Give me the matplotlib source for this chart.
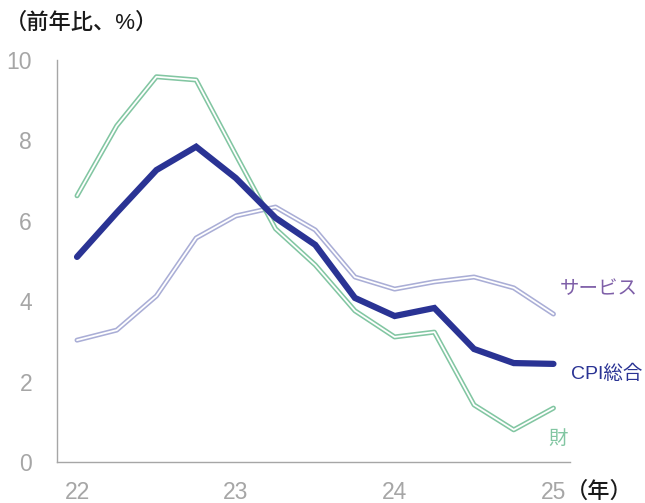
import numpy as np
import matplotlib.pyplot as plt

plt.rcParams['font.family'] = ['Noto Sans CJK JP', 'DejaVu Sans']

# quarterly points, 2022Q1 .. 2025Q1
quarters = [22.0, 22.25, 22.5, 22.75, 23.0, 23.25, 23.5, 23.75, 24.0, 24.25, 24.5, 24.75, 25.0]
cpi = [5.1, 6.2, 7.26, 7.84, 7.06, 6.07, 5.4, 4.08, 3.63, 3.83, 2.81, 2.46, 2.44]
goods = [6.62, 8.36, 9.58, 9.5, 7.64, 5.8, 4.9, 3.76, 3.11, 3.23, 1.42, 0.8, 1.34]
services = [3.03, 3.28, 4.13, 5.57, 6.12, 6.34, 5.77, 4.6, 4.3, 4.48, 4.6, 4.33, 3.68]

xticks = [22, 23, 24, 25]
yticks = [0, 2, 4, 6, 8, 10]

c_cpi = '#2a3394'
c_goods = '#82c6a2'
c_serv = '#aaaed6'
gray = '#a6a6a6'

fig = plt.figure(figsize=(6.45, 5.03), dpi=100)
ax = fig.add_axes([0.0884, 0.0815, 0.796, 0.7995])

# double lines: colored outer, white core
for vals, col in [(services, c_serv), (goods, c_goods)]:
    ax.plot(quarters, vals, color=col, lw=3.6, solid_capstyle='round', solid_joinstyle='round')
    ax.plot(quarters, vals, color='white', lw=1.3, solid_capstyle='round', solid_joinstyle='round')
ax.plot(quarters, cpi, color=c_cpi, lw=4.5, solid_capstyle='round', solid_joinstyle='miter')

ax.set_xlim(21.874, 25.107)
ax.set_ylim(0, 10)
ax.set_xticks(xticks)
ax.set_xticklabels([str(t) for t in xticks])
ax.set_yticks(yticks)
ax.tick_params(length=0, labelsize=16.5, colors=gray, pad=18)
ax.tick_params(axis='x', pad=14)
for lab in ax.get_xticklabels() + ax.get_yticklabels():
    lab.set_family('Liberation Sans')
for s in ['top', 'right']:
    ax.spines[s].set_visible(False)
for s in ['left', 'bottom']:
    ax.spines[s].set_color(gray)
    ax.spines[s].set_linewidth(1.0)

head_font = ['Liberation Sans', 'Noto Sans CJK JP']
fig.text(0.008, 0.953, '（前年比、%）', fontsize=16, color='#1a1a1a', va='center', ha='left',
         family=head_font, weight='medium')
fig.text(0.878, 0.022, '（年）', fontsize=16, color='#1a1a1a', va='center', ha='left',
         family=head_font, weight='medium')

lab_font = ['Liberation Sans', 'Noto Sans CJK JP']
ax.text(25.04, 4.3, 'サービス', color='#7e5fa8', fontsize=14, va='center', ha='left', family=lab_font)
ax.text(25.11, 2.2, 'CPI総合', color=c_cpi, fontsize=14, va='center', ha='left', family=lab_font)
ax.text(24.97, 0.58, '財', color=c_goods, fontsize=14, va='center', ha='left', family=lab_font)

fig.savefig('out.png', dpi=100)
